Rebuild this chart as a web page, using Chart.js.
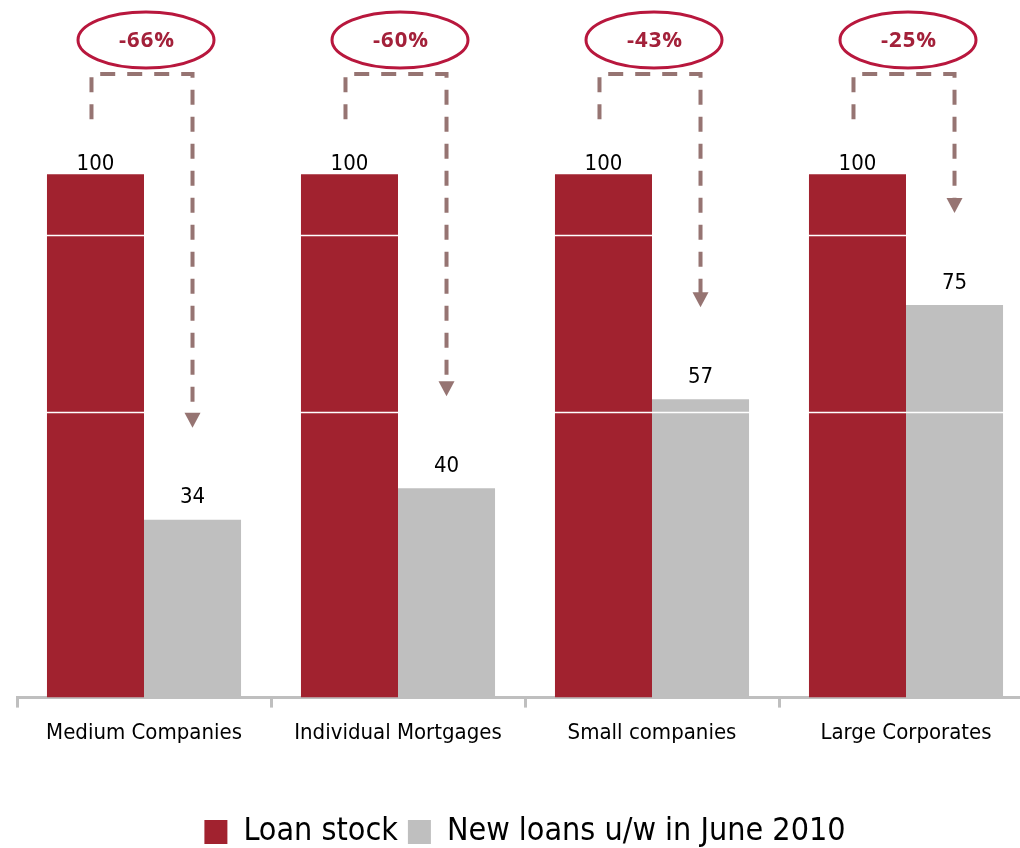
<!DOCTYPE html>
<html>
<head>
<meta charset="utf-8">
<title>Loan stock vs new loans</title>
<script src="https://cdn.jsdelivr.net/npm/chart.js@4"></script>
<style>
  html, body { margin: 0; padding: 0; background: #fff; overflow: hidden; }
  #wrap { width: 1044px; height: 858px; }
</style>
</head>
<body>
<div id="wrap"><canvas id="loansChart" width="1044" height="858"></canvas></div>
<script>
// chart data
const categories = ['Medium Companies', 'Individual Mortgages', 'Small companies', 'Large Corporates'];
const loanStock = [100, 100, 100, 100];
const newLoans = [34, 40, 57, 75];
// white rule lines laid over the bars
const guideLines = [54.5, 88.3];

const RED = '#A1222F';
const GREY = '#BFBFBF';
const ARROW = '#967472';
const FONT = '"DejaVu Sans Condensed", "DejaVu Sans", sans-serif';

// white rules, value labels, dashed arrows and the % change ellipses
const annotatePlugin = {
    id: 'annotate',
    afterDatasetsDraw(chart) {
        const ctx = chart.ctx;
        const area = chart.chartArea;
        const yScale = chart.scales.y;
        ctx.save();
        ctx.strokeStyle = '#fff';
        ctx.lineWidth = 1.5;
        guideLines.forEach((v) => {
            const y = Math.round(yScale.getPixelForValue(v)) + 0.5;
            ctx.beginPath();
            ctx.moveTo(area.left, y);
            ctx.lineTo(area.right, y);
            ctx.stroke();
        });
        ctx.restore();
    },
    afterDraw(chart) {
        const ctx = chart.ctx;
        const area = chart.chartArea;
        const redBars = chart.getDatasetMeta(0).data;
        const greyBars = chart.getDatasetMeta(1).data;

        ctx.save();
        ctx.fillStyle = '#000';
        ctx.font = '22px ' + FONT;
        ctx.textAlign = 'center';
        ctx.textBaseline = 'bottom';
        redBars.forEach((bar, i) => ctx.fillText(loanStock[i], bar.x, bar.y + 1));
        greyBars.forEach((bar, i) => ctx.fillText(newLoans[i], bar.x, bar.y - 11));

        redBars.forEach((bar, i) => {
            const grey = greyBars[i];
            const leftX = bar.x - 4;
            const topY = area.top + 74;
            const tipY = grey.y - 92;

            ctx.strokeStyle = ARROW;
            ctx.lineWidth = 4;
            ctx.setLineDash([15, 12]);
            ctx.beginPath();
            ctx.moveTo(leftX, bar.y - 55);
            ctx.lineTo(leftX, topY);
            ctx.lineTo(grey.x, topY);
            ctx.lineTo(grey.x, tipY - 14);
            ctx.stroke();
            ctx.setLineDash([]);

            ctx.fillStyle = ARROW;
            ctx.beginPath();
            ctx.moveTo(grey.x - 8, tipY - 15);
            ctx.lineTo(grey.x + 8, tipY - 15);
            ctx.lineTo(grey.x, tipY);
            ctx.closePath();
            ctx.fill();

            const cx = (bar.x + grey.x) / 2 + 2;
            const cy = area.top + 40;
            ctx.strokeStyle = '#B8173D';
            ctx.lineWidth = 3;
            ctx.beginPath();
            ctx.ellipse(cx, cy, 68, 28, 0, 0, Math.PI * 2);
            ctx.stroke();

            const change = Math.round((newLoans[i] / loanStock[i] - 1) * 100);
            ctx.fillStyle = '#A3213A';
            ctx.font = 'bold 22px "Open Sans", sans-serif';
            ctx.letterSpacing = '1px';
            ctx.textBaseline = 'middle';
            ctx.fillText(change + '%', cx + 1, cy + 1);
            ctx.letterSpacing = '0px';
            ctx.textBaseline = 'bottom';
            ctx.font = '22px ' + FONT;
        });
        ctx.restore();
    }
};

const ctx = document.getElementById('loansChart').getContext('2d');
new Chart(ctx, {
    type: 'bar',
    data: {
        labels: categories,
        datasets: [
            {
                label: 'Loan stock',
                data: loanStock,
                backgroundColor: RED,
                barPercentage: 1,
                categoryPercentage: 0.764,
            },
            {
                label: 'New loans u/w in June 2010',
                data: newLoans,
                backgroundColor: GREY,
                barPercentage: 1,
                categoryPercentage: 0.764,
            },
        ],
    },
    options: {
        responsive: false,
        animation: false,
        layout: { padding: { left: 17, right: 11, top: 0, bottom: 0 } },
        scales: {
            x: {
                grid: { offset: true, drawOnChartArea: false, tickLength: 10, color: GREY, lineWidth: 3 },
                border: { color: GREY, width: 3 },
                ticks: { color: '#000', font: { family: FONT, size: 22 }, padding: 12 },
                // leave room between the category labels and the legend
                afterFit: (scale) => { scale.height += 48; },
            },
            y: {
                display: false,
                min: 0,
                max: 133.3,
            },
        },
        plugins: {
            legend: {
                position: 'bottom',
                labels: {
                    boxWidth: 23,
                    boxHeight: 24,
                    color: '#000',
                    font: { family: FONT, size: 32 },
                    padding: 10,
                },
            },
            tooltip: { enabled: false },
        },
    },
    plugins: [annotatePlugin],
});
</script>
</body>
</html>
